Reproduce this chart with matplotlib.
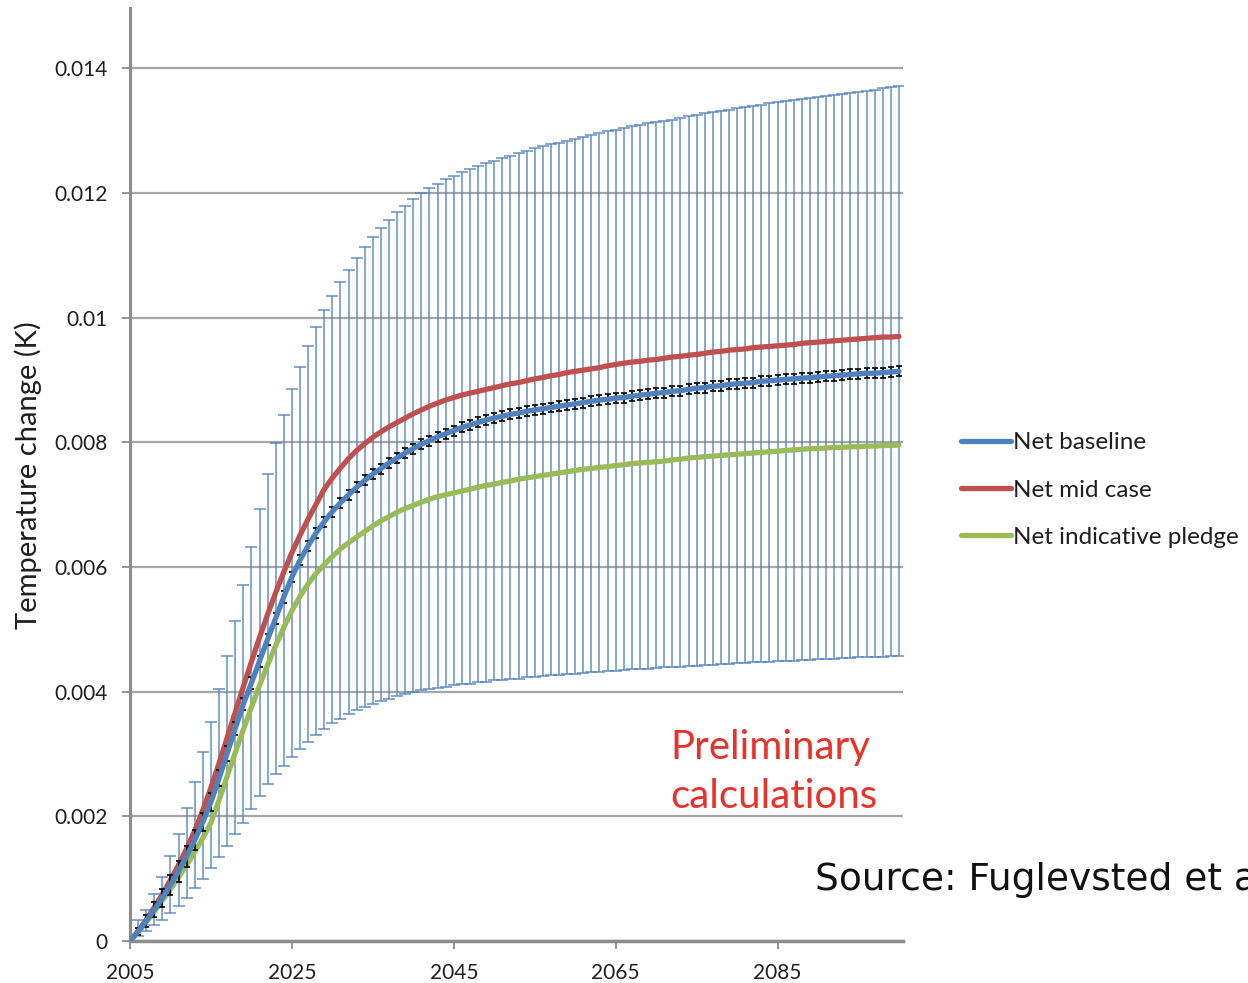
import matplotlib
matplotlib.use("Agg")
import matplotlib.pyplot as plt
import numpy as np

# ---------------- data ----------------
years = list(range(2005, 2101))

net_baseline = [
    0.00000, 0.00015, 0.00032, 0.00050, 0.00069, 0.00090, 0.00112, 0.00136, 0.00162, 0.00191,
    0.00223, 0.00261, 0.00301, 0.00341, 0.00380, 0.00414, 0.00449, 0.00484, 0.00518, 0.00552,
    0.00584, 0.00611, 0.00634, 0.00655, 0.00673, 0.00689, 0.00703, 0.00716, 0.00728, 0.00739,
    0.00749, 0.00758, 0.00767, 0.00775, 0.00783, 0.00790, 0.00797, 0.00803, 0.00809, 0.00814,
    0.00819, 0.00824, 0.00828, 0.00832, 0.00836, 0.00839, 0.00842, 0.00845, 0.00847, 0.00850,
    0.00852, 0.00854, 0.00856, 0.00858, 0.00860, 0.00862, 0.00864, 0.00866, 0.00868, 0.00869,
    0.00871, 0.00872, 0.00874, 0.00876, 0.00877, 0.00879, 0.00880, 0.00882, 0.00883, 0.00885,
    0.00887, 0.00888, 0.00890, 0.00891, 0.00893, 0.00894, 0.00895, 0.00896, 0.00898, 0.00899,
    0.00900, 0.00901, 0.00902, 0.00903, 0.00904, 0.00905, 0.00906, 0.00907, 0.00908, 0.00909,
    0.00910, 0.00911, 0.00911, 0.00912, 0.00913, 0.00914,
]

net_mid_case = [
    0.00000, 0.00016, 0.00034, 0.00054, 0.00075, 0.00098, 0.00122, 0.00148, 0.00177, 0.00210,
    0.00246, 0.00285, 0.00326, 0.00367, 0.00408, 0.00448, 0.00487, 0.00524, 0.00559, 0.00592,
    0.00623, 0.00651, 0.00677, 0.00701, 0.00725, 0.00743, 0.00759, 0.00774, 0.00787, 0.00798,
    0.00808, 0.00817, 0.00825, 0.00832, 0.00839, 0.00846, 0.00852, 0.00858, 0.00863, 0.00868,
    0.00872, 0.00876, 0.00879, 0.00882, 0.00885, 0.00888, 0.00891, 0.00894, 0.00896, 0.00899,
    0.00902, 0.00904, 0.00907, 0.00909, 0.00912, 0.00914, 0.00916, 0.00918, 0.00920, 0.00923,
    0.00925, 0.00927, 0.00929, 0.00930, 0.00932, 0.00933, 0.00935, 0.00937, 0.00938, 0.00940,
    0.00941, 0.00943, 0.00945, 0.00946, 0.00948, 0.00949, 0.00950, 0.00952, 0.00953, 0.00954,
    0.00955, 0.00956, 0.00957, 0.00959, 0.00960, 0.00961, 0.00962, 0.00963, 0.00964, 0.00965,
    0.00966, 0.00967, 0.00968, 0.00969, 0.00969, 0.00970,
]

net_indicative_pledge = [
    0.00000, 0.00014, 0.00030, 0.00047, 0.00065, 0.00083, 0.00102, 0.00122, 0.00143, 0.00165,
    0.00190, 0.00226, 0.00264, 0.00302, 0.00339, 0.00375, 0.00410, 0.00443, 0.00474, 0.00503,
    0.00530, 0.00553, 0.00573, 0.00590, 0.00604, 0.00617, 0.00629, 0.00639, 0.00648, 0.00657,
    0.00666, 0.00674, 0.00681, 0.00688, 0.00694, 0.00699, 0.00704, 0.00709, 0.00713, 0.00716,
    0.00719, 0.00722, 0.00725, 0.00728, 0.00731, 0.00733, 0.00736, 0.00738, 0.00741, 0.00743,
    0.00745, 0.00747, 0.00749, 0.00751, 0.00753, 0.00755, 0.00757, 0.00758, 0.00760, 0.00761,
    0.00763, 0.00764, 0.00766, 0.00767, 0.00768, 0.00769, 0.00770, 0.00772, 0.00773, 0.00775,
    0.00776, 0.00777, 0.00778, 0.00779, 0.00780, 0.00781, 0.00782, 0.00783, 0.00784, 0.00785,
    0.00786, 0.00787, 0.00788, 0.00789, 0.00790, 0.00790, 0.00791, 0.00792, 0.00792, 0.00793,
    0.00793, 0.00794, 0.00794, 0.00795, 0.00795, 0.00796,
]

# range of the light-blue uncertainty bars (baseline)
baseline_upper = [
    0.00005, 0.00034, 0.00050, 0.00075, 0.00103, 0.00136, 0.00172, 0.00213, 0.00255, 0.00303,
    0.00351, 0.00405, 0.00457, 0.00513, 0.00572, 0.00632, 0.00693, 0.00749, 0.00799, 0.00844,
    0.00885, 0.00921, 0.00954, 0.00985, 0.01012, 0.01035, 0.01057, 0.01076, 0.01096, 0.01113,
    0.01129, 0.01144, 0.01157, 0.01169, 0.01180, 0.01191, 0.01200, 0.01208, 0.01215, 0.01222,
    0.01228, 0.01234, 0.01239, 0.01244, 0.01248, 0.01252, 0.01256, 0.01260, 0.01264, 0.01268,
    0.01272, 0.01275, 0.01278, 0.01281, 0.01284, 0.01287, 0.01290, 0.01293, 0.01296, 0.01299,
    0.01302, 0.01304, 0.01307, 0.01309, 0.01312, 0.01314, 0.01316, 0.01318, 0.01321, 0.01323,
    0.01326, 0.01328, 0.01330, 0.01332, 0.01334, 0.01336, 0.01338, 0.01340, 0.01342, 0.01344,
    0.01346, 0.01347, 0.01349, 0.01351, 0.01353, 0.01354, 0.01356, 0.01358, 0.01359, 0.01361,
    0.01362, 0.01364, 0.01366, 0.01368, 0.01370, 0.01372,
]

baseline_lower = [
    0.00000, 0.00008, 0.00016, 0.00025, 0.00034, 0.00045, 0.00056, 0.00069, 0.00085, 0.00100,
    0.00117, 0.00134, 0.00152, 0.00172, 0.00190, 0.00212, 0.00233, 0.00252, 0.00268, 0.00281,
    0.00295, 0.00308, 0.00319, 0.00330, 0.00340, 0.00349, 0.00357, 0.00364, 0.00370, 0.00376,
    0.00381, 0.00385, 0.00389, 0.00393, 0.00396, 0.00399, 0.00402, 0.00404, 0.00406, 0.00408,
    0.00410, 0.00412, 0.00413, 0.00415, 0.00416, 0.00418, 0.00419, 0.00420, 0.00421, 0.00423,
    0.00424, 0.00425, 0.00426, 0.00427, 0.00428, 0.00429, 0.00430, 0.00431, 0.00432, 0.00433,
    0.00434, 0.00435, 0.00436, 0.00437, 0.00437, 0.00438, 0.00439, 0.00440, 0.00440, 0.00441,
    0.00442, 0.00443, 0.00443, 0.00444, 0.00445, 0.00446, 0.00446, 0.00447, 0.00448, 0.00448,
    0.00449, 0.00450, 0.00450, 0.00451, 0.00451, 0.00452, 0.00453, 0.00453, 0.00454, 0.00454,
    0.00455, 0.00455, 0.00456, 0.00456, 0.00457, 0.00457,
]

# small black error bars on the baseline (+/-)
baseline_small_err = [
    0.00003, 0.00006, 0.00009, 0.00012, 0.00014, 0.00016, 0.00017, 0.00017, 0.00016, 0.00015,
    0.00014, 0.00013, 0.00012, 0.00011, 0.00010, 0.00010, 0.00009, 0.00009, 0.00009, 0.00009,
    0.00008, 0.00008, 0.00008, 0.00008, 0.00008, 0.00008, 0.00008, 0.00008, 0.00008, 0.00008,
    0.00008, 0.00008, 0.00008, 0.00008, 0.00008, 0.00008, 0.00008, 0.00008, 0.00008, 0.00008,
    0.00008, 0.00008, 0.00008, 0.00008, 0.00008, 0.00008, 0.00008, 0.00008, 0.00008, 0.00008,
    0.00008, 0.00008, 0.00008, 0.00008, 0.00008, 0.00008, 0.00008, 0.00008, 0.00008, 0.00008,
    0.00008, 0.00008, 0.00008, 0.00008, 0.00008, 0.00008, 0.00008, 0.00008, 0.00008, 0.00008,
    0.00008, 0.00008, 0.00008, 0.00008, 0.00008, 0.00008, 0.00008, 0.00008, 0.00008, 0.00008,
    0.00008, 0.00008, 0.00008, 0.00008, 0.00008, 0.00008, 0.00008, 0.00008, 0.00008, 0.00008,
    0.00008, 0.00008, 0.00008, 0.00008, 0.00008, 0.00008,
]

x_tick_years = [2005, 2025, 2045, 2065, 2085]
y_ticks = [0, 0.002, 0.004, 0.006, 0.008, 0.01, 0.012, 0.014]
y_tick_labels = ["0", "0.002", "0.004", "0.006", "0.008", "0.01", "0.012", "0.014"]
series_labels = ["Net baseline", "Net mid case", "Net indicative pledge"]

# ---------------- drawing ----------------
FONT = ["Lato", "DejaVu Sans"]
C_BLUE = "#4F81BD"
C_RED = "#C0504D"
C_GREEN = "#9BBB59"
TXT = "#1F1F1F"

fig = plt.figure(figsize=(12.48, 9.83), dpi=100)
ax = fig.add_axes([130 / 1248, 42 / 983, (903 - 130) / 1248, (975 - 42) / 983])

yrs = np.array(years)
base = np.array(net_baseline)
up = np.array(baseline_upper)
lo = np.array(baseline_lower)

# light blue uncertainty bars
ax.errorbar(yrs, base, yerr=[base - lo, up - base], fmt="none",
            ecolor=C_BLUE, elinewidth=1.3, capsize=4.5, capthick=1.3,
            alpha=0.75, zorder=2)

ax.plot(yrs, net_mid_case, color=C_RED, lw=3.8, zorder=4, label=series_labels[1],
        solid_capstyle="round")
ax.plot(yrs, net_indicative_pledge, color=C_GREEN, lw=3.8, zorder=4,
        label=series_labels[2], solid_capstyle="round")

# small black bars
ax.errorbar(yrs, base, yerr=baseline_small_err, fmt="none", ecolor="#111111",
            elinewidth=1.3, capsize=2.2, capthick=1.3, zorder=5)
ax.plot(yrs, net_baseline, color=C_BLUE, lw=3.8, zorder=6, label=series_labels[0],
        solid_capstyle="round")

ax.set_xlim(2005, 2100.5)
ax.set_ylim(0, 0.01497)

ax.set_yticks(y_ticks)
ax.set_yticklabels(y_tick_labels)
ax.set_xticks(x_tick_years)
ax.set_xticklabels([str(y) for y in x_tick_years])

for lab in ax.get_xticklabels() + ax.get_yticklabels():
    lab.set_fontfamily(FONT)
    lab.set_fontsize(15)
    lab.set_color(TXT)

ax.tick_params(axis="y", direction="out", length=6, width=1.3, color="#8C8C8C", pad=10)
ax.tick_params(axis="x", direction="out", length=6, width=1.3, color="#8C8C8C", pad=10)

ax.yaxis.grid(True, color="#A6A6A6", lw=1.6, zorder=0)
ax.set_axisbelow(True)
for s in ["top", "right"]:
    ax.spines[s].set_visible(False)
ax.spines["left"].set_color("#8C8C8C")
ax.spines["left"].set_linewidth(2.2)
ax.spines["bottom"].set_color("#8C8C8C")
ax.spines["bottom"].set_linewidth(2.5)
ax.set_facecolor("white")

fig.text(28 / 1248, 1 - 475 / 983, "Temperature change (K)", rotation=90,
         ha="center", va="center", fontsize=21, family=FONT, color=TXT)

# legend
handles, labels = ax.get_legend_handles_labels()
order = [labels.index(l) for l in series_labels]
leg = fig.legend([handles[i] for i in order], [labels[i] for i in order],
                 loc="center left", bbox_to_anchor=(961 / 1248, 1 - 490 / 983),
                 frameon=False, prop={"family": FONT, "size": 17.5},
                 handlelength=2.05, handletextpad=0.1, labelspacing=1.07,
                 borderpad=0, borderaxespad=0)
for t in leg.get_texts():
    t.set_color(TXT)

fig.text(670 / 1248, 1 - 772 / 983, "Preliminary\ncalculations", ha="left", va="center",
         fontsize=29, family=FONT, color="#E8322A", linespacing=1.4)

fig.text(815 / 1248, 1 - 880 / 983, "Source: Fuglevsted et al.", ha="left", va="center",
         fontsize=27, family=["DejaVu Sans"], color="#111111")

fig.savefig("out.png", dpi=100, facecolor="white")
